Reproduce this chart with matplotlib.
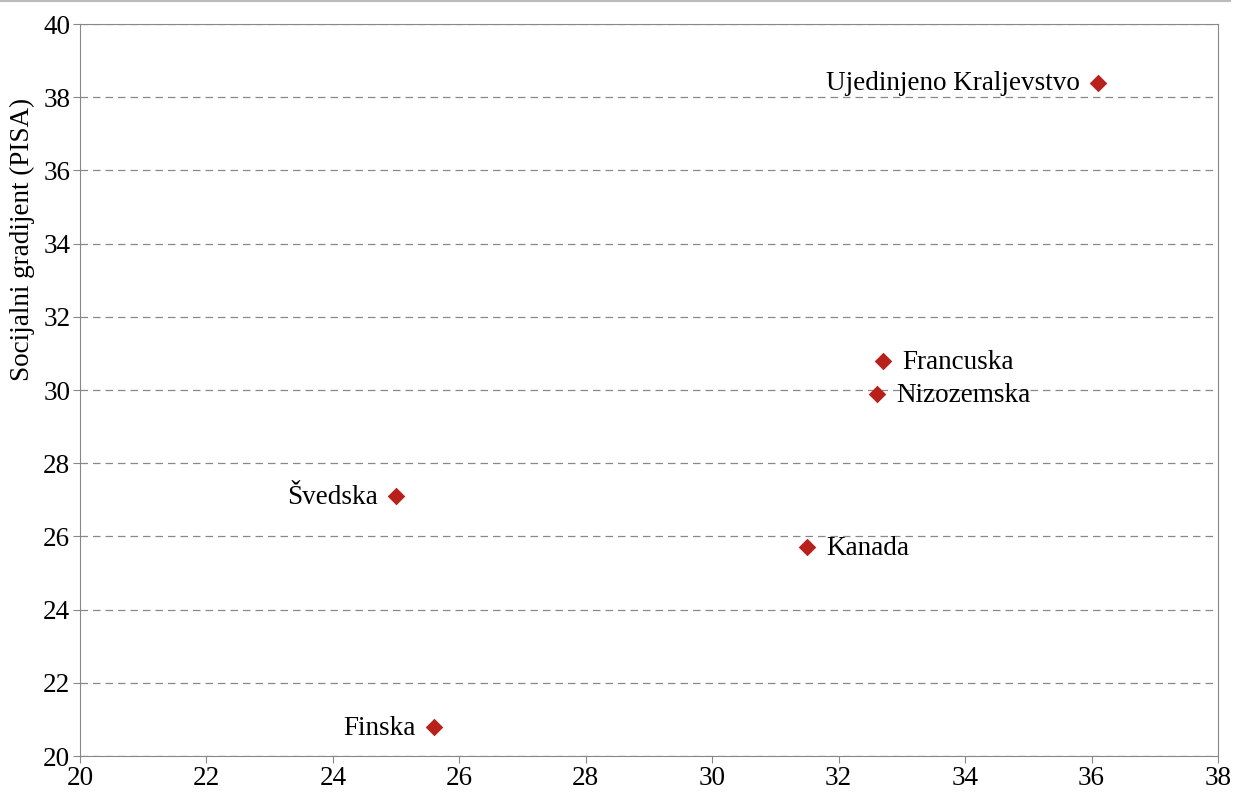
import matplotlib.pyplot as plt
from matplotlib.lines import Line2D

plt.rcParams['font.family'] = ['Liberation Serif', 'DejaVu Serif']

countries = ["Ujedinjeno Kraljevstvo", "Francuska", "Nizozemska", "Švedska", "Kanada", "Finska"]
x_vals = [36.1, 32.7, 32.6, 25.0, 31.5, 25.6]
y_vals = [38.4, 30.8, 29.9, 27.1, 25.7, 20.8]
label_side = ["left", "right", "right", "left", "right", "left"]

fig = plt.figure(figsize=(12.41, 7.94), dpi=100)
ax = fig.add_axes([80 / 1241, 1 - 756 / 794, (1218 - 80) / 1241, (756 - 24) / 794])

ax.scatter(x_vals, y_vals, marker="D", s=80, color="#b8201c", zorder=3, linewidths=0)

for name, x, y, side in zip(countries, x_vals, y_vals, label_side):
    if side == "left":
        ax.annotate(name, (x, y), xytext=(-13, -1), textcoords="offset points",
                    ha="right", va="center", fontsize=19.5)
    else:
        ax.annotate(name, (x, y), xytext=(14, -1), textcoords="offset points",
                    ha="left", va="center", fontsize=19.5)

ax.set_xlim(20, 38)
ax.set_ylim(20, 40)
ax.set_xticks(range(20, 39, 2))
ax.set_yticks(range(20, 41, 2))
ax.yaxis.grid(True, linestyle=(0, (6, 4)), color="#888888", linewidth=0.9)
ax.set_axisbelow(True)
for sp in ax.spines.values():
    sp.set_color("#888888")
ax.tick_params(colors="#888888", labelcolor="black", labelsize=19.5, length=5,
               direction="out", pad=2)
# label sits in the upper part of the axis, not centred
ax.set_ylabel("Socijalni gradijent (PISA)", fontsize=19.5, labelpad=6, y=0.706)

# thin grey rule across the top of the figure
fig.add_artist(Line2D([0, 1230 / 1241], [0.999, 0.999], color="#bbbbbb", linewidth=1.5,
                      transform=fig.transFigure))

fig.savefig("out.png", dpi=100)
